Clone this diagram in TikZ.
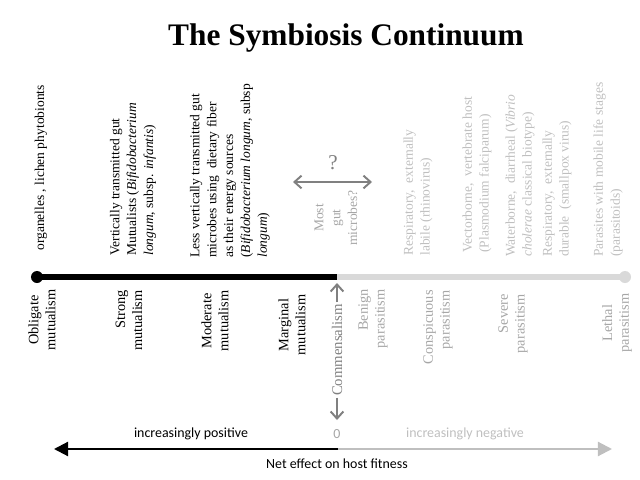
\documentclass[tikz,border=0pt]{standalone}
\usepackage{fontspec}
\setmainfont{Liberation Serif}
\newfontfamily\calibri{Carlito}
\usetikzlibrary{arrows.meta}
\definecolor{paleline}{HTML}{D9D9D9}
\definecolor{midgray}{HTML}{808080}
\definecolor{softgray}{HTML}{A6A6A6}
\definecolor{palegray}{HTML}{BFBFBF}
\tikzset{
	uptext/.style={rotate=90, anchor=west, align=left, inner sep=0pt, font=\fontsize{9.6}{12}\selectfont},
	downtext/.style={rotate=90, anchor=east, align=right, inner sep=0pt, font=\fontsize{10.2}{12}\selectfont},
	barb/.style={midgray, line width=1.4pt, -{Straight Barb[length=5pt,width=9pt]}},
	twoway/.style={midgray, line width=1.4pt, {Straight Barb[length=5pt,width=9pt]}-{Straight Barb[length=5pt,width=9pt]}},
	axislabel/.style={font=\calibri\fontsize{9.9}{12}\selectfont, inner sep=0pt}
}
\begin{document}
\begin{tikzpicture}[x=0.025cm, y=-0.025cm]
		\useasboundingbox (0,0) rectangle (640,480);
		\node[font=\fontsize{22.3}{26}\selectfont\bfseries, anchor=base] (title) at (346,45) {The Symbiosis Continuum};
		\node[uptext] (organelles) at (41,251) {organelles , lichen phytobionts};
		\node[uptext] (vertical) at (133,256) {Vertically transmitted gut\\Mutualists (\textit{Bifidobacterium}\\\textit{longum}, subsp. \textit{infantis})};
		\node[uptext] (lessvertical) at (230,258) {Less vertically transmitted gut\\microbes using\ \ dietary fiber\\as their energy sources\\(\textit{Bifidobacterium longum}, subsp\\\textit{longum})};
		\node[rotate=90, align=center, inner sep=0pt, text=softgray, font=\fontsize{9.6}{12}\selectfont] (mostgut) at (336,218) {Most\\gut\\microbes?};
		\node[text=midgray, font=\fontsize{15}{17}\selectfont] (qmark) at (333,163) {?};
		\coordinate (qleft) at (293,182);
		\coordinate (qright) at (372,182);
		\draw[twoway] (qleft) -- (qright);
		\node[uptext, text=palegray] (rhino) at (418,256) {Respiratory,\ \ externally\\labile (rhinovirus)};
		\node[uptext, text=palegray] (plasmo) at (477,253) {Vectorborne,\ \ vertebrate host\\(Plasmodium falciparum)};
		\node[uptext, text=palegray] (vibrio) at (520,257) {Waterborne,\ \ diarrheal (\textit{Vibrio}\\\textit{cholerae} classical biotype)};
		\node[uptext, text=palegray] (smallpox) at (557,257) {Respiratory,\ \ externally\\durable\ \ (smallpox virus)};
		\node[uptext, text=palegray] (parasitoids) at (608,257) {Parasites with mobile life stages\\(parasitoids)};
		\node[circle, fill=black, inner sep=0pt, minimum size=0.3cm] (obl) at (37,277) {};
		\node[circle, fill=paleline, inner sep=0pt, minimum size=0.3cm] (leth) at (625,277) {};
		\coordinate (zero) at (337,277);
		\draw[line width=4.2pt] (obl.center) -- (zero);
		\draw[paleline, line width=4.2pt] (zero) -- (leth.center);
		\node[downtext, anchor=center, align=center] (obligate) at (42,320) {Obligate\\mutualism};
		\node[downtext] (strong) at (129,290) {Strong\\mutualism};
		\node[downtext, anchor=center, align=center] (moderate) at (215,321) {Moderate\\mutualism};
		\node[downtext, anchor=center, align=center] (marginal) at (292,325) {Marginal\\mutualism};
		\node[rotate=90, text=midgray, font=\fontsize{10.5}{12}\selectfont, inner sep=1pt] (comm) at (337,350) {Commensalism};
		\coordinate (commtop) at (337,283);
		\coordinate (commbot) at (337,420);
		\draw[barb] (comm.east) -- (commtop);
		\draw[barb] (comm.west) -- (commbot);
		\node[downtext, text=softgray] (benign) at (373,289) {Benign\\parasitism};
		\node[downtext, text=softgray] (conspicuous) at (438,290) {Conspicuous\\parasitism};
		\node[downtext, text=softgray] (severe) at (513,294) {Severe\\parasitism};
		\node[downtext, text=softgray, anchor=center, align=center] (lethal) at (617,323) {Lethal\\parasitism};
		\coordinate (axzero) at (338,449);
		\coordinate (axpos) at (54,449);
		\coordinate (axneg) at (612,449);
		\draw[line width=1.5pt, -{Triangle[length=10pt,width=10pt]}] (axzero) -- (axpos);
		\draw[palegray, line width=1.5pt, -{Triangle[length=10pt,width=10pt]}] (axzero) -- (axneg);
		\node[axislabel] (incpos) at (191,434) {increasingly positive};
		\node[axislabel, text=softgray] (zerolab) at (337,434) {0};
		\node[axislabel, text=palegray] (incneg) at (465,434) {increasingly negative};
		\node[axislabel] (neteffect) at (337,464) {Net effect on host fitness};
\end{tikzpicture}
\end{document}
